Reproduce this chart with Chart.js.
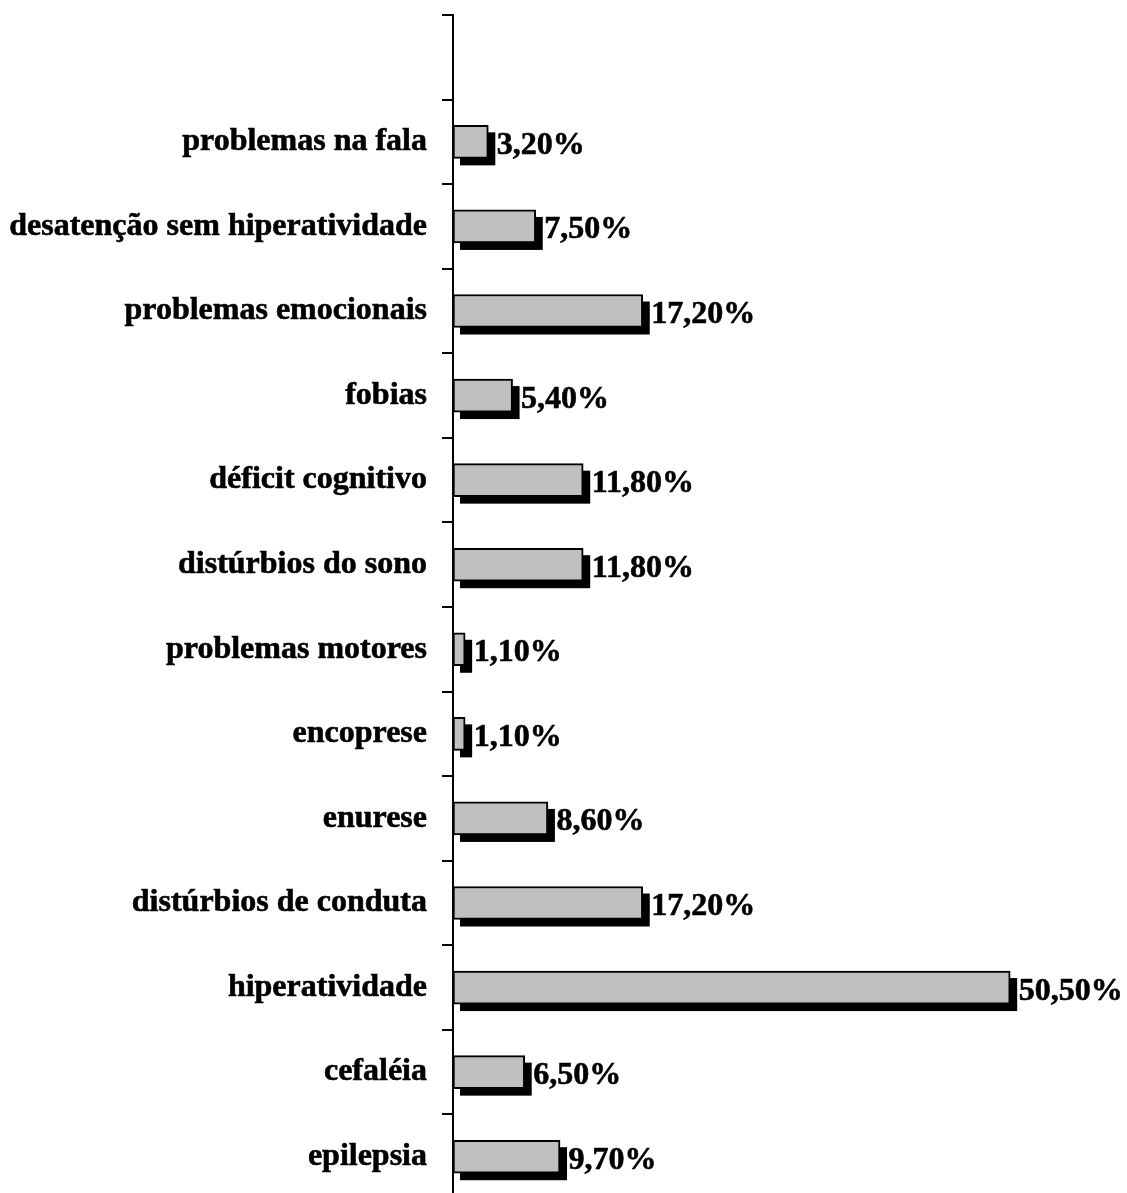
<!DOCTYPE html>
<html>
<head>
<meta charset="utf-8">
<script src="https://cdn.jsdelivr.net/npm/chart.js@4"></script>
<style>
  html, body { margin: 0; padding: 0; background: #ffffff; overflow: hidden; }
  #wrap { position: relative; width: 1127px; height: 1199px; }
</style>
</head>
<body>
<div id="wrap"><canvas id="chart"></canvas></div>
<script>
// Categories, listed top to bottom (first slot is left empty)
const categories = [
  '',
  'problemas na fala',
  'desatenção sem hiperatividade',
  'problemas emocionais',
  'fobias',
  'déficit cognitivo',
  'distúrbios do sono',
  'problemas motores',
  'encoprese',
  'enurese',
  'distúrbios de conduta',
  'hiperatividade',
  'cefaléia',
  'epilepsia'
];

// Percentages per category
const percentages = [null, 3.2, 7.5, 17.2, 5.4, 11.8, 11.8, 1.1, 1.1, 8.6, 17.2, 50.5, 6.5, 9.7];

const FONT = '"Liberation Serif", "Times New Roman", serif';
const FONT_SIZE = 32;
const SHADOW = 7;

// Solid black drop shadow behind every bar
const barShadow = {
  id: 'barShadow',
  beforeDatasetsDraw(chart) {
    const ctx = chart.ctx;
    const meta = chart.getDatasetMeta(0);
    ctx.save();
    ctx.fillStyle = '#000000';
    meta.data.forEach((bar, i) => {
      if (percentages[i] == null) return;
      const p = bar.getProps(['x', 'y', 'base', 'height'], true);
      ctx.fillRect(p.base + SHADOW, p.y - p.height / 2 + SHADOW, p.x - p.base, p.height);
    });
    ctx.restore();
  }
};

// Value text to the right of each bar, e.g. "3,20%"
const valueLabels = {
  id: 'valueLabels',
  afterDatasetsDraw(chart) {
    const ctx = chart.ctx;
    const meta = chart.getDatasetMeta(0);
    ctx.save();
    ctx.fillStyle = '#000000';
    ctx.strokeStyle = '#000000';
    ctx.lineWidth = 0.6;
    ctx.font = 'bold ' + FONT_SIZE + 'px ' + FONT;
    ctx.textAlign = 'left';
    ctx.textBaseline = 'alphabetic';
    meta.data.forEach((bar, i) => {
      const v = percentages[i];
      if (v == null) return;
      const p = bar.getProps(['x', 'y'], true);
      const txt = v.toFixed(2).replace('.', ',') + '%';
      ctx.fillText(txt, p.x + 8.5, p.y + 12);
      ctx.strokeText(txt, p.x + 8.5, p.y + 12);
    });
    ctx.restore();
  }
};

new Chart(document.getElementById('chart'), {
  type: 'bar',
  data: {
    labels: categories,
    datasets: [{
      data: percentages,
      backgroundColor: '#c0c0c0',
      borderColor: '#000000',
      borderWidth: 2,
      borderSkipped: false,
      barThickness: 33
    }]
  },
  options: {
    indexAxis: 'y',
    responsive: true,
    maintainAspectRatio: false,
    animation: false,
    layout: { padding: { top: 15, right: 12, bottom: 0, left: 0 } },
    plugins: {
      legend: { display: false },
      tooltip: { enabled: false }
    },
    scales: {
      x: {
        display: false,
        min: 0,
        max: 60
      },
      y: {
        position: 'left',
        offset: true,
        grid: {
          offset: true,
          drawOnChartArea: false,
          drawTicks: true,
          tickLength: 11,
          tickWidth: 2,
          tickColor: '#000000',
          color: '#000000',
          lineWidth: 2
        },
        border: { display: true, color: '#000000', width: 2 },
        ticks: {
          color: '#000000',
          textStrokeColor: '#000000',
          textStrokeWidth: 0.6,
          padding: 15,
          autoSkip: false,
          font: { family: FONT, size: FONT_SIZE, weight: 'bold' }
        },
        afterFit(scale) {
          scale.width = 453;
          scale.paddingTop = 0;
          scale.paddingBottom = 0;
        }
      }
    }
  },
  plugins: [barShadow, valueLabels]
});
</script>
</body>
</html>
